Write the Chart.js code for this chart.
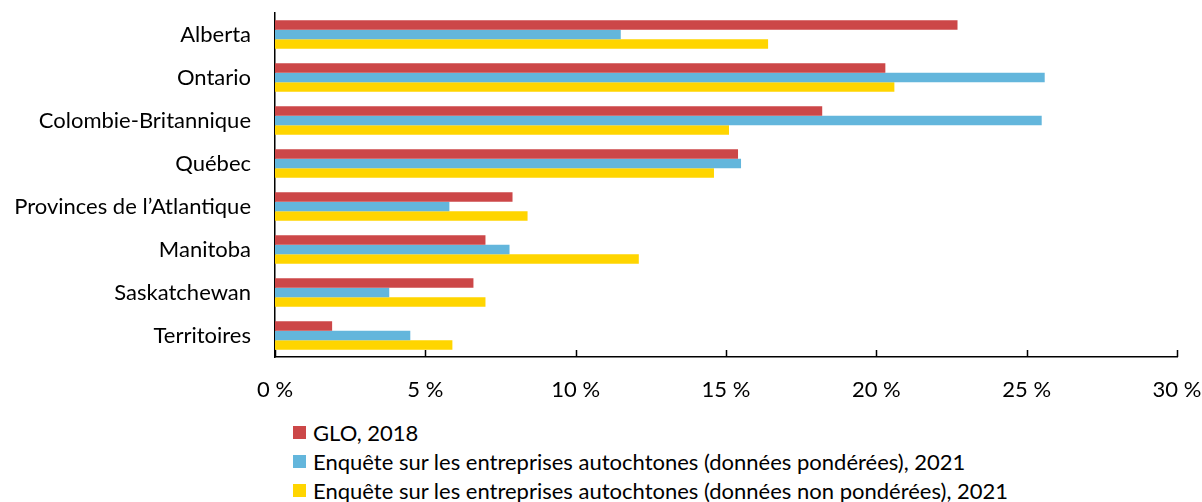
<!DOCTYPE html>
<html>
<head>
<meta charset="utf-8">
<script src="https://cdn.jsdelivr.net/npm/chart.js@4"></script>
<style>
  body { margin: 0; background: #fff; font-family: Lato, sans-serif; }
  #wrap { position: relative; width: 1202px; height: 400px; }
  #legend { margin-left: 293px; margin-top: 18px; font-size: 22px; color: #000; }
  #legend div { height: 29px; line-height: 29px; display: flex; align-items: center; }
  #legend span.box { display: inline-block; width: 13px; height: 13px; margin-right: 7px; }
</style>
</head>
<body>
<div id="wrap"><canvas id="chart"></canvas></div>
<div id="legend"></div>
<script>
var regions = ["Alberta", "Ontario", "Colombie-Britannique", "Québec", "Provinces de l\u2019Atlantique", "Manitoba", "Saskatchewan", "Territoires"];
var glo2018 = [22.7, 20.3, 18.2, 15.4, 7.9, 7.0, 6.6, 1.9];
var eeaPond = [11.5, 25.6, 25.5, 15.5, 5.8, 7.8, 3.8, 4.5];
var eeaNonPond = [16.4, 20.6, 15.1, 14.6, 8.4, 12.1, 7.0, 5.9];
var seriesNames = ["GLO, 2018",
  "Enquête sur les entreprises autochtones (données pondérées), 2021",
  "Enquête sur les entreprises autochtones (données non pondérées), 2021"];
var colors = ["#CC4748", "#63B6DC", "#FFD500"];
var xTicks = [0, 5, 10, 15, 20, 25, 30];

// tick marks pointing up into the plot area
var innerTicks = {
  id: 'innerTicks',
  afterDraw: function (chart) {
    var ctx = chart.ctx, x = chart.scales.x, bottom = chart.chartArea.bottom;
    ctx.save();
    ctx.strokeStyle = '#000';
    ctx.lineWidth = 1.5;
    ctx.beginPath();
    xTicks.forEach(function (v) {
      var px = Math.round(x.getPixelForValue(v)) + 0.5;
      ctx.moveTo(px, bottom);
      ctx.lineTo(px, bottom - 7);
    });
    ctx.stroke();
    ctx.restore();
  }
};

var data = [glo2018, eeaPond, eeaNonPond];
var chart = new Chart(document.getElementById('chart'), {
  type: 'bar',
  data: {
    labels: regions,
    datasets: data.map(function (d, i) {
      return { label: seriesNames[i], data: d, backgroundColor: colors[i],
               categoryPercentage: 0.66, barPercentage: 1.0 };
    })
  },
  options: {
    indexAxis: 'y',
    responsive: true,
    maintainAspectRatio: false,
    animation: false,
    layout: { padding: { left: 0, right: 25, top: 13, bottom: 0 } },
    plugins: { legend: { display: false }, tooltip: { enabled: false } },
    scales: {
      x: {
        min: 0, max: 30,
        afterBuildTicks: function (s) { s.ticks = xTicks.map(function (v) { return { value: v }; }); },
        afterFit: function (s) { s.height = 43; s.paddingLeft = 0; s.paddingRight = 0; },
        grid: { display: false, drawTicks: false },
        border: { display: true, color: '#000', width: 1.5 },
        ticks: { color: '#000', padding: 20, font: { family: 'Lato', size: 22 },
                 callback: function (v) { return v + ' %'; } }
      },
      y: {
        afterFit: function (s) { s.width = 275; s.paddingTop = 0; s.paddingBottom = 0; },
        grid: { display: false, drawTicks: false },
        border: { display: true, color: '#000', width: 1.5 },
        ticks: { color: '#000', padding: 24, font: { family: 'Lato', size: 22 } }
      }
    }
  },
  plugins: [innerTicks]
});

var legend = document.getElementById('legend');
seriesNames.forEach(function (n, i) {
  var row = document.createElement('div');
  row.innerHTML = '<span class="box" style="background:' + colors[i] + '"></span>' + n;
  legend.appendChild(row);
});
</script>
</body>
</html>
